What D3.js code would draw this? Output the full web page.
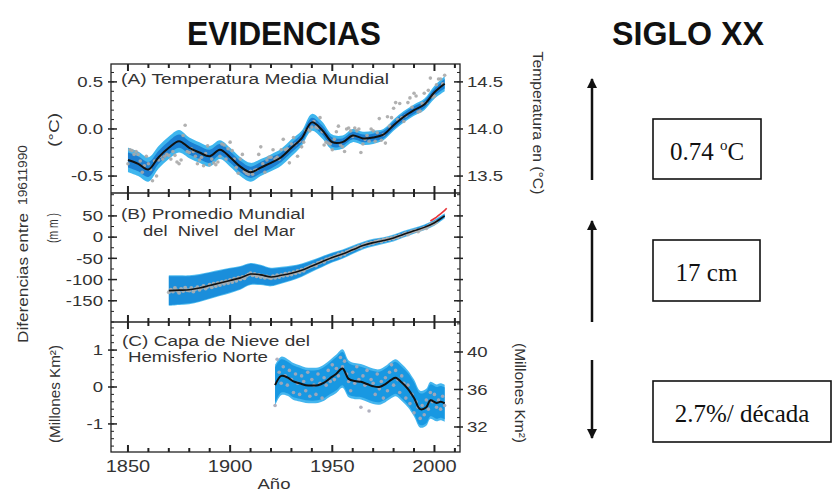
<!DOCTYPE html>
<html><head><meta charset="utf-8">
<script src="https://cdn.jsdelivr.net/npm/d3@7"></script>
<style>body{margin:0;background:#fff}svg{display:block}text{white-space:pre}</style>
</head><body>
<svg id="c" width="833" height="492"></svg>
<script>
// ---------------- DATA ----------------
const yearTicks = [1850, 1900, 1950, 2000];
const tempTicks = [-0.5, 0.0, 0.5];
const tempRightTicks = [13.5, 14.0, 14.5];
const seaTicks = [-150, -100, -50, 0, 50];
const snowTicks = [-1, 0, 1];
const snowRightTicks = [32, 36, 40];

// (A) annual global mean temperature anomaly (°C, rel. 1961-1990), 1850-2005
const tempYearStart = 1850;
const tempAnnual = [
 -0.37,-0.22,-0.23,-0.27,-0.24,-0.27,-0.34,-0.46,-0.39,-0.29,
 -0.37,-0.43,-0.55,-0.34,-0.50,-0.33,-0.29,-0.32,-0.29,-0.27,
 -0.28,-0.32,-0.24,-0.28,-0.35,-0.37,-0.33,-0.07,0.04,-0.24,
 -0.25,-0.21,-0.24,-0.29,-0.37,-0.33,-0.30,-0.39,-0.26,-0.18,
 -0.38,-0.32,-0.36,-0.38,-0.35,-0.29,-0.16,-0.17,-0.32,-0.21,
 -0.14,-0.23,-0.32,-0.41,-0.47,-0.32,-0.27,-0.45,-0.47,-0.48,
 -0.45,-0.48,-0.44,-0.43,-0.27,-0.19,-0.37,-0.46,-0.33,-0.30,
 -0.30,-0.22,-0.32,-0.30,-0.32,-0.22,-0.11,-0.22,-0.21,-0.36,
 -0.16,-0.09,-0.16,-0.29,-0.13,-0.19,-0.14,-0.02,0.00,-0.02,
 0.02,0.08,0.02,0.01,0.12,-0.03,-0.17,-0.14,-0.15,-0.16,
 -0.22,-0.11,-0.03,0.03,-0.17,-0.19,-0.24,0.00,0.01,-0.02,
 -0.08,0.01,-0.02,0.00,-0.25,-0.16,-0.11,-0.07,-0.13,0.00,
 -0.02,-0.13,-0.04,0.11,-0.12,-0.06,-0.15,0.13,0.03,0.12,
 0.22,0.28,0.10,0.27,0.12,0.08,0.14,0.28,0.33,0.23,
 0.38,0.35,0.18,0.19,0.27,0.38,0.28,0.41,0.54,0.34,
 0.35,0.47,0.53,0.53,0.48,0.57
];
const tempSmoothYears = [1850,1855,1860,1865,1870,1875,1880,1885,1890,1895,1900,1905,1910,1915,1920,1925,1930,1935,1940,1945,1950,1955,1960,1965,1970,1975,1980,1985,1990,1995,2000,2005];
const tempSmooth = [-0.33,-0.37,-0.43,-0.30,-0.20,-0.13,-0.20,-0.25,-0.29,-0.22,-0.30,-0.40,-0.46,-0.41,-0.36,-0.30,-0.20,-0.10,0.07,-0.01,-0.14,-0.14,-0.07,-0.10,-0.09,-0.06,0.04,0.13,0.20,0.26,0.39,0.48];
const tempBandOuter = [0.13,0.13,0.13,0.12,0.12,0.12,0.11,0.11,0.11,0.10,0.10,0.10,0.10,0.09,0.09,0.09,0.09,0.08,0.09,0.09,0.08,0.07,0.07,0.07,0.07,0.06,0.06,0.06,0.06,0.06,0.07,0.08];
const tempBandInner = [0.08,0.08,0.08,0.07,0.07,0.07,0.07,0.07,0.07,0.06,0.06,0.06,0.06,0.06,0.06,0.05,0.05,0.05,0.05,0.05,0.05,0.04,0.04,0.04,0.04,0.04,0.04,0.04,0.04,0.04,0.04,0.05];

// (B) global mean sea level (mm, rel. 1961-1990)
const seaYearStart = 1870;
const seaAnnual = [
 -130,-124,-128,-120,-126,-131,-122,-127,-119,-125,
 -126,-120,-128,-122,-118,-124,-119,-115,-121,-117,
 -112,-118,-110,-115,-108,-113,-106,-110,-104,-108,
 -101,-106,-98,-103,-96,-99,-94,-97,-91,-88,
 -85,-90,-87,-92,-89,-94,-91,-96,-93,-95,
 -97,-92,-96,-90,-94,-89,-91,-86,-90,-85,
 -88,-83,-85,-80,-82,-77,-79,-74,-72,-70,
 -68,-65,-67,-61,-60,-57,-58,-53,-52,-50,
 -49,-46,-45,-41,-44,-38,-40,-35,-33,-31,
 -29,-26,-25,-22,-23,-19,-18,-15,-16,-13,
 -14,-11,-10,-8,-10,-6,-7,-4,-5,-2,
 -3,1,0,4,3,7,9,6,11,13,
 14,16,13,18,20,22,21,26,29,31,
 33,36
];
const seaSmoothYears = [1870,1875,1880,1885,1890,1895,1900,1905,1910,1915,1920,1925,1930,1935,1940,1945,1950,1955,1960,1965,1970,1975,1980,1985,1990,1995,2000,2005];
const seaSmooth = [-126,-125,-124,-120,-114,-108,-102,-96,-87,-89,-94,-90,-85,-78,-68,-58,-48,-40,-30,-20,-13,-8,-2,7,15,23,34,50];
const seaBand = [36,35,34,33,32,31,30,28,26,24,22,20,18,16,14,13,12,11,10,9,9,8,8,8,7,7,7,6];
const seaSatYears = [1998,1999,2000,2001,2002,2003,2004,2005,2006];
const seaSat = [38,41,44,47,51,55,59,63,68];

// (C) NH snow cover anomaly (million km², rel. 1961-1990), 1922-2005
const snowYearStart = 1922;
const snowAnnual = [
 -0.50,0.75,0.40,0.10,0.55,0.30,0.05,0.45,0.20,-0.15,
 0.35,0.10,-0.20,0.30,0.15,-0.10,0.40,-0.25,0.20,0.05,
 -0.20,0.35,0.10,-0.30,0.25,0.05,0.45,0.15,0.60,0.20,
 0.50,0.30,0.80,0.55,0.70,0.35,0.15,-0.10,0.40,0.10,
 0.55,0.20,-0.55,0.30,0.05,0.45,-0.65,0.20,0.10,-0.20,
 0.35,-0.05,0.15,-0.30,0.25,-0.10,0.40,0.60,0.05,0.45,
 0.20,-0.15,0.30,0.10,-0.30,0.05,-0.45,-0.20,-0.70,-0.40,
 -0.55,-0.85,-0.50,-0.75,-0.35,-0.60,-0.15,-0.40,-0.20,-0.55,
 -0.35,-0.60,-0.25,-0.50
];
const snowSmoothYears = [1922,1925,1928,1931,1934,1937,1940,1943,1946,1949,1952,1955,1958,1961,1964,1967,1970,1973,1976,1979,1981,1984,1987,1990,1993,1996,1998,2001,2003,2005];
const snowSmooth = [0.05,0.30,0.26,0.15,0.10,0.05,0.04,0.05,0.12,0.24,0.36,0.50,0.22,0.16,0.14,0.08,0.02,0.00,0.08,0.20,0.25,0.12,-0.05,-0.30,-0.60,-0.55,-0.36,-0.43,-0.40,-0.44];
const snowBand = [0.55,0.52,0.50,0.50,0.49,0.48,0.48,0.48,0.49,0.50,0.52,0.52,0.50,0.49,0.48,0.48,0.48,0.48,0.49,0.50,0.50,0.50,0.50,0.50,0.50,0.50,0.50,0.50,0.50,0.50];

// Titles and summary values
const leftTitle = "EVIDENCIAS";
const rightTitle = "SIGLO XX";
const summaryLabels = ["0.74 ", "17 cm", "2.7%/ década"];

// ---------------- DRAWING ----------------
const svg = d3.select("#c");
const SANS = "'Liberation Sans', Arial, Helvetica, sans-serif";
const SERIF = "'Liberation Serif', 'Times New Roman', serif";
const INK = "#333";
const loc = d3.formatLocale({decimal: ".", thousands: ",", grouping: [3], currency: ["", ""], minus: "-"});

function txt(g, str, x, y, o) {
  const t = g.append("text").attr("x", x).attr("y", y).text(str)
    .attr("font-family", o.family || SANS).attr("font-size", o.size)
    .attr("fill", o.fill || INK).attr("text-anchor", o.anchor || "start")
    .attr("font-weight", o.weight || "normal");
  if (o.dy) t.attr("dy", o.dy);
  if (o.rotate) t.attr("transform", `rotate(${o.rotate},${x},${y})`);
  if (o.len) t.attr("textLength", o.len).attr("lengthAdjust", "spacingAndGlyphs");
  else if (o.stretch) {
    const L = t.node().getComputedTextLength();
    t.attr("textLength", L * o.stretch).attr("lengthAdjust", "spacingAndGlyphs");
  }
  return t;
}

const X0 = 111, X1 = 460;
const x = d3.scaleLinear().domain([1841.7, 2012.5]).range([X0, X1]);
const yA = d3.scaleLinear().domain([-0.68, 0.69]).range([193, 64]);
const yA2 = d3.scaleLinear().domain([13.32, 14.69]).range([193, 64]);
const yB = d3.scaleLinear().domain([-200, 104]).range([322, 193]);
const yC = d3.scaleLinear().domain([-1.76, 1.76]).range([452, 322]);
const yC2 = d3.scaleLinear().domain([29.33, 43.2]).range([452, 322]);

const zip = (xs, ys, bs) => xs.map((v, i) => ({yr: v, v: ys[i], b: bs ? bs[i] : 0}));
const annual = (start, vals) => vals.map((v, i) => ({yr: start + i, v}));

function drawSeries(g, y, smooth, outer, inner, pts, colors) {
  const clipId = "clip" + Math.round(y.range()[1]);
  g.append("clipPath").attr("id", clipId).append("rect")
    .attr("x", X0).attr("y", y.range()[1]).attr("width", X1 - X0).attr("height", y.range()[0] - y.range()[1]);
  const s = g.append("g").attr("clip-path", `url(#${clipId})`);
  const curve = d3.curveCatmullRom.alpha(0.5);
  const area = d3.area().curve(curve).x(d => x(d.yr)).y0(d => y(d.v - d.b)).y1(d => y(d.v + d.b));
  s.append("path").datum(outer).attr("d", area).attr("fill", colors.outer);
  if (inner) s.append("path").datum(inner).attr("d", area).attr("fill", colors.inner);
  s.selectAll("circle.p").data(pts).join("circle").attr("class", "p")
    .attr("cx", d => x(d.yr)).attr("cy", d => y(d.v)).attr("r", colors.r || 1.8)
    .attr("fill", colors.dot).attr("opacity", 0.9);
  s.append("path").datum(smooth).attr("fill", "none").attr("stroke", "#111").attr("stroke-width", colors.lw || 2)
    .attr("d", d3.line().curve(curve).x(d => x(d.yr)).y(d => y(d.v)));
  return s;
}

// Panel A
const gA = svg.append("g");
drawSeries(gA, yA, zip(tempSmoothYears, tempSmooth), zip(tempSmoothYears, tempSmooth, tempBandOuter),
  zip(tempSmoothYears, tempSmooth, tempBandInner), annual(tempYearStart, tempAnnual),
  {outer: "#3fb6ee", inner: "#1c7fd2", dot: "#a9a9a9"});

// Panel B
const gB = svg.append("g");
const sB = drawSeries(gB, yB, zip(seaSmoothYears, seaSmooth), zip(seaSmoothYears, seaSmooth, seaBand),
  zip(seaSmoothYears, seaSmooth, seaBand.map(b => b - 2)), annual(seaYearStart, seaAnnual),
  {outer: "#55bff0", inner: "#1a8edb", dot: "#b0b0b0", r: 2, lw: 1.6});
sB.append("path").datum(zip(seaSatYears, seaSat)).attr("fill", "none").attr("stroke", "#e8343a").attr("stroke-width", 1.6)
  .attr("d", d3.line().x(d => x(d.yr)).y(d => yB(d.v)));

// Panel C
const gC = svg.append("g");
drawSeries(gC, yC, zip(snowSmoothYears, snowSmooth), zip(snowSmoothYears, snowSmooth, snowBand),
  zip(snowSmoothYears, snowSmooth, snowBand.map(b => b - 0.07)), annual(snowYearStart, snowAnnual),
  {outer: "#46b6ee", inner: "#1898e2", dot: "#a8a8b8", r: 1.8});

// Frames & ticks
const fr = svg.append("g").attr("stroke", "#222").attr("fill", "none");
fr.append("rect").attr("x", X0).attr("y", 64).attr("width", X1 - X0).attr("height", 452 - 64).attr("stroke-width", 1.3);
[193, 322].forEach(yy => fr.append("line").attr("x1", X0).attr("x2", X1).attr("y1", yy).attr("y2", yy).attr("stroke-width", 1.3));

const yrsMinor = d3.range(1850, 2011, 10);
function xTicks(yTop, yBot) {
  yrsMinor.forEach(yr => {
    const L = yr % 50 === 0 ? 7 : 4;
    fr.append("line").attr("x1", x(yr)).attr("x2", x(yr)).attr("y1", yTop).attr("y2", yTop + L).attr("stroke-width", 2);
    fr.append("line").attr("x1", x(yr)).attr("x2", x(yr)).attr("y1", yBot).attr("y2", yBot - L).attr("stroke-width", 2);
  });
}
xTicks(64, 193); xTicks(193, 322); xTicks(322, 452);

function yTicks(scale, majors, minorStep, xPos, dir) {
  const [lo, hi] = scale.domain();
  d3.range(Math.ceil(lo / minorStep) * minorStep, hi, minorStep).forEach(v => {
    fr.append("line").attr("x1", xPos).attr("x2", xPos + dir * 3).attr("y1", scale(v)).attr("y2", scale(v)).attr("stroke-width", 1);
  });
  majors.forEach(v => {
    fr.append("line").attr("x1", xPos - dir * 3).attr("x2", xPos + dir * 6).attr("y1", scale(v)).attr("y2", scale(v)).attr("stroke-width", 1.5);
  });
}
yTicks(yA, tempTicks, 0.1, X0, 1);
yTicks(yA2, tempRightTicks, 0.1, X1, -1);
yTicks(yB, seaTicks, 25, X0, 1);
yTicks(yB, seaTicks, 25, X1, -1);
yTicks(yC, snowTicks, 0.2, X0, 1);
yTicks(yC2, snowRightTicks, 1, X1, -1);

// Tick labels
const T = svg.append("g");
const f1 = loc.format(".1f"), f0 = loc.format("d");
tempTicks.forEach(v => txt(T, f1(v), 103, yA(v), {size: 14.5, anchor: "end", dy: "0.36em", stretch: 1.28}));
seaTicks.forEach(v => txt(T, f0(v), 103, yB(v), {size: 14.5, anchor: "end", dy: "0.36em", stretch: 1.28}));
snowTicks.forEach(v => txt(T, f0(v), 103, yC(v), {size: 14.5, anchor: "end", dy: "0.36em", stretch: 1.28}));
tempRightTicks.forEach(v => txt(T, f1(v), 467, yA2(v), {size: 14.5, dy: "0.36em", stretch: 1.28}));
snowRightTicks.forEach(v => txt(T, f0(v), 467, yC2(v), {size: 14.5, dy: "0.36em", stretch: 1.28}));
yearTicks.forEach(v => txt(T, f0(v), x(v), 472, {size: 16, anchor: "middle", stretch: 1.25}));
txt(T, "Año", 274, 489, {size: 15.5, anchor: "middle", len: 33});

// Panel titles
txt(T, "(A) Temperatura Media Mundial", 121, 84, {size: 14, len: 268});
txt(T, "(B) Promedio Mundial", 121, 219, {size: 14, len: 184});
txt(T, "del  Nivel   del Mar", 143, 236, {size: 14, len: 152});
txt(T, "(C) Capa de Nieve del", 122, 346, {size: 14, len: 188});
txt(T, "Hemisferio Norte", 128, 362, {size: 14, len: 140});

// Axis titles (rotated)
txt(T, "Diferencias entre", 28, 343, {size: 15, rotate: -90, len: 130});
txt(T, "19611990", 27, 205, {size: 12, rotate: -90, len: 60});
txt(T, "(°C)", 59, 130, {size: 15, rotate: -90, anchor: "middle", len: 34});
txt(T, "(m m )", 58, 228, {size: 15, rotate: -90, anchor: "middle", len: 30});
txt(T, "(Millones Km²)", 60, 394, {size: 14.5, rotate: -90, anchor: "middle", len: 98});
txt(T, "Temperatura en (°C)", 533, 123, {size: 14.5, rotate: 90, anchor: "middle", len: 143});
txt(T, "(Millones Km²)", 515, 393, {size: 14.5, rotate: 90, anchor: "middle", len: 100});

// Main titles
txt(T, leftTitle, 284, 45, {size: 34, weight: "bold", anchor: "middle", len: 194, fill: "#111"});
txt(T, rightTitle, 688, 45, {size: 34, weight: "bold", anchor: "middle", len: 152, fill: "#111"});

// Right column: arrows and boxes
const defs = svg.append("defs");
defs.append("marker").attr("id", "ah").attr("viewBox", "0 0 10 10").attr("refX", 9).attr("refY", 5)
  .attr("markerWidth", 4).attr("markerHeight", 4).attr("orient", "auto-start-reverse").attr("markerUnits", "strokeWidth")
  .append("path").attr("d", "M0,0 L10,5 L0,10 z").attr("fill", "#111");
const R = svg.append("g");
[[180, 79], [322, 221], [360, 438]].forEach(([a, b]) => {
  R.append("line").attr("x1", 592).attr("x2", 592).attr("y1", a).attr("y2", b)
    .attr("stroke", "#111").attr("stroke-width", 2.5).attr("marker-end", "url(#ah)");
});
const boxes = [{x: 653, y: 119, w: 108, h: 60, ty: 160}, {x: 653, y: 240, w: 107, h: 61, ty: 281}, {x: 653, y: 381, w: 178, h: 61, ty: 422}];
boxes.forEach((b, i) => {
  R.append("rect").attr("x", b.x).attr("y", b.y).attr("width", b.w).attr("height", b.h)
    .attr("fill", "none").attr("stroke", "#111").attr("stroke-width", 1.6);
  const t = txt(R, summaryLabels[i], b.x + b.w / 2, b.ty, {family: SERIF, size: 25, anchor: "middle", fill: "#111"});
  if (i === 0) {
    t.append("tspan").attr("font-size", 15).attr("dy", -10).text("o");
    t.append("tspan").attr("dy", 10).text("C");
  }
});
</script>
</body></html>
